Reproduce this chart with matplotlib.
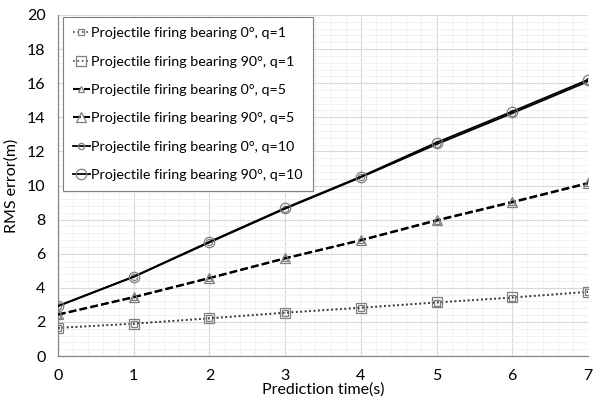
import matplotlib
matplotlib.use('Agg')
import matplotlib.pyplot as plt
from matplotlib.ticker import MultipleLocator

# Prediction times (s)
times = [0, 1, 2, 3, 4, 5, 6, 7]

# RMS error (m)
q1_b0   = [1.64, 1.89, 2.20, 2.53, 2.82, 3.13, 3.42, 3.75]
q1_b90  = [1.66, 1.90, 2.22, 2.55, 2.84, 3.15, 3.44, 3.77]
q5_b0   = [2.42, 3.44, 4.56, 5.72, 6.78, 7.94, 9.01, 10.12]
q5_b90  = [2.44, 3.46, 4.58, 5.74, 6.80, 7.97, 9.04, 10.15]
q10_b0  = [2.92, 4.64, 6.66, 8.64, 10.48, 12.42, 14.24, 16.10]
q10_b90 = [2.94, 4.66, 6.70, 8.68, 10.52, 12.52, 14.34, 16.20]

labels = [
  'Projectile firing bearing 0°, q=1',
  'Projectile firing bearing 90°, q=1',
  'Projectile firing bearing 0°, q=5',
  'Projectile firing bearing 90°, q=5',
  'Projectile firing bearing 0°, q=10',
  'Projectile firing bearing 90°, q=10',
]

plt.rcParams['font.family'] = ['Lato', 'DejaVu Sans']

fig = plt.figure( figsize = (5.97, 4.0), dpi = 100 )
ax  = fig.add_axes( [58/597, 1 - 356/400, 530/597, 341/400] )

edge = '#7f7f7f'
styles = [
  dict( y = q1_b0,   ls = ':',  color = '#404040', marker = 's', ms = 3.8, lw = 1.2 ),
  dict( y = q1_b90,  ls = ':',  color = '#404040', marker = 's', ms = 6.5, lw = 1.2 ),
  dict( y = q5_b0,   ls = '--', color = 'black',   marker = '^', ms = 4.0, lw = 1.5 ),
  dict( y = q5_b90,  ls = '--', color = 'black',   marker = '^', ms = 7.0, lw = 1.5 ),
  dict( y = q10_b0,  ls = '-',  color = 'black',   marker = 'o', ms = 4.5, lw = 1.3 ),
  dict( y = q10_b90, ls = '-',  color = 'black',   marker = 'o', ms = 7.5, lw = 1.3 ),
]
for st, lab in zip( styles, labels ):
  ax.plot( times, st['y'], linestyle = st['ls'], color = st['color'], lw = st['lw'],
           marker = st['marker'], markersize = st['ms'], markerfacecolor = 'none',
           markeredgecolor = edge, markeredgewidth = 0.9, label = lab, zorder = 3 )

ax.set_xlim( 0, 7 )
ax.set_ylim( 0, 20 )
ax.xaxis.set_major_locator( MultipleLocator(1) )
ax.xaxis.set_minor_locator( MultipleLocator(0.2) )
ax.yaxis.set_major_locator( MultipleLocator(2) )
ax.yaxis.set_minor_locator( MultipleLocator(0.4) )
ax.grid( which = 'major', color = '#d9d9d9', lw = 0.8 )
ax.grid( which = 'minor', color = '#efefef', lw = 0.6 )
ax.set_axisbelow( True )

for side in ['top', 'right']:
  ax.spines[side].set_visible( False )
for side in ['left', 'bottom']:
  ax.spines[side].set_color( '#868686' )
  ax.spines[side].set_linewidth( 0.9 )

ax.tick_params( which = 'both', length = 0, labelsize = 11.5, colors = '#404040', labelcolor = 'black' )
ax.tick_params( axis = 'x', pad = 9 )
ax.tick_params( axis = 'y', pad = 9 )
ax.set_xlabel( 'Prediction time(s)', fontsize = 11.5, labelpad = 0 )
ax.set_ylabel( 'RMS error(m)', fontsize = 11.5, labelpad = 6 )

leg = ax.legend( loc = 'upper left', bbox_to_anchor = (0.009, 0.994), fontsize = 10.3,
                 handlelength = 1.2, handletextpad = 0.1, borderpad = 0.7,
                 labelspacing = 1.15, fancybox = False, framealpha = 1,
                 borderaxespad = 0 )
leg.get_frame().set_edgecolor( '#7f7f7f' )
leg.get_frame().set_linewidth( 0.8 )

fig.savefig( 'out.png', dpi = 100 )
